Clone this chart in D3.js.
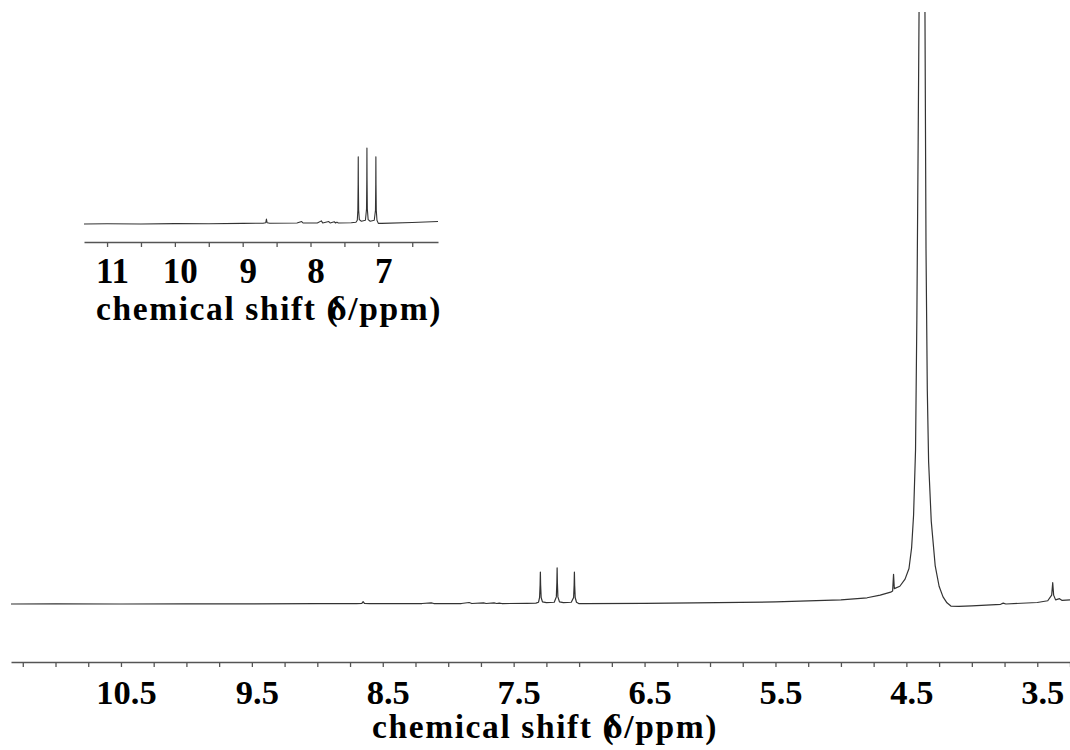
<!DOCTYPE html>
<html>
<head>
<meta charset="utf-8">
<script src="https://cdn.jsdelivr.net/npm/d3@7"></script>
<style>
  html, body { margin: 0; padding: 0; background: #fff; }
  svg { display: block; }
  .tick text, .axis-title { font-family: "Liberation Serif", "Times New Roman", serif; font-weight: bold; fill: #000; }
</style>
</head>
<body>
<svg id="chart" width="1070" height="750"></svg>
<script>
// 1H NMR spectrum (ppm, relative intensity)
const spectrumPpm = [
  11.34, 11.00, 10.50, 10.00, 9.50, 9.00, 8.70, 8.66, 8.65, 8.64, 8.60,
  8.20, 8.13, 8.11, 7.90, 7.84, 7.82, 7.73, 7.71, 7.65, 7.63, 7.61, 7.59,
  7.40, 7.33, 7.31, 7.302, 7.298, 7.296, 7.294, 7.290, 7.28, 7.25,
  7.19, 7.174, 7.170, 7.168, 7.166, 7.162, 7.15, 7.12,
  7.06, 7.042, 7.038, 7.036, 7.034, 7.030, 7.02, 7.00, 6.95,
  6.50, 6.12, 5.50, 5.00, 4.80, 4.70, 4.62, 4.605, 4.598, 4.592,
  4.55, 4.51, 4.48, 4.46, 4.445, 4.43, 4.42, 4.41, 4.40, 4.39, 4.38,
  4.37, 4.36, 4.35, 4.34, 4.33, 4.31, 4.28, 4.25, 4.22, 4.19, 4.16,
  4.10, 4.00, 3.78, 3.76, 3.74, 3.50, 3.42, 3.39, 3.382, 3.375, 3.36,
  3.33, 3.31, 3.25
];
const spectrumIntensity = [
  0.00, 0.02, 0.00, 0.03, 0.02, 0.05, 0.06, 0.10, 0.40, 0.10, 0.06,
  0.08, 0.20, 0.08, 0.08, 0.25, 0.08, 0.20, 0.08, 0.18, 0.08, 0.15, 0.08,
  0.10, 0.14, 0.30, 1.1, 3.2, 5.4, 3.2, 1.1, 0.35, 0.22,
  0.30, 1.2, 3.6, 6.1, 3.6, 1.2, 0.35, 0.22,
  0.30, 1.1, 3.2, 5.4, 3.2, 1.1, 0.30, 0.05, 0.05,
  0.12, 0.20, 0.35, 0.70, 1.05, 1.5, 2.0, 2.2, 5.0, 2.6,
  3.0, 4.2, 6.0, 9.5, 15, 26, 48, 78, 110, 170, 230,
  170, 110, 60, 36, 24, 14, 6.5, 3.0, 1.2, 0.2, -0.35,
  -0.4, -0.3, -0.05, 0.15, 0.0, 0.25, 0.55, 1.5, 3.6, 1.5, 0.7,
  0.9, 0.6, 0.7
];

const mainDomain = [11.34, 3.25];
const mainTickLabels = [10.5, 9.5, 8.5, 7.5, 6.5, 5.5, 4.5, 3.5];
const insetDomain = [11.34, 6.12];
const insetTickLabels = [11, 10, 9, 8, 7];
const axisTitle = "chemical shift (";
const axisTitleTail = "/ppm)";

const spectrum = spectrumPpm.map((p, i) => ({ ppm: p, v: spectrumIntensity[i] }));

const svg = d3.select('#chart');
const defs = svg.append('defs');

// ---- main spectrum ----
const x = d3.scaleLinear().domain(mainDomain).range([11, 1070]);
const y = d3.scaleLinear().domain([0, 100]).range([604, 12]);

defs.append('clipPath').attr('id', 'mainClip')
  .append('rect').attr('x', 11).attr('y', 12).attr('width', 1059).attr('height', 640);

svg.append('path')
  .datum(spectrum)
  .attr('clip-path', 'url(#mainClip)')
  .attr('fill', 'none')
  .attr('stroke', '#333')
  .attr('stroke-width', 1.2)
  .attr('stroke-linejoin', 'round')
  .attr('d', d3.line().x(d => x(d.ppm)).y(d => y(d.v)));

const mainMinor = d3.range(11.25, 3.2, -0.25);
const mainAxis = svg.append('g')
  .attr('transform', 'translate(0,662)')
  .call(d3.axisBottom(x)
    .tickValues(mainMinor)
    .tickSize(5)
    .tickSizeOuter(0)
    .tickPadding(13)
    .tickFormat(d => mainTickLabels.some(t => Math.abs(t - d) < 1e-6) ? d3.format('.1f')(d) : ''));
styleAxis(mainAxis, 34.5);

addTitle(545, 738);

// ---- inset ----
const xi = d3.scaleLinear().domain(insetDomain).range([84, 438]);
const yi = d3.scaleLinear().domain([0, 6.1]).range([224, 148]);

defs.append('clipPath').attr('id', 'insetClip')
  .append('rect').attr('x', 84).attr('y', 100).attr('width', 354).attr('height', 140);

svg.append('path')
  .datum(spectrum.filter(d => d.ppm >= 6.0))
  .attr('clip-path', 'url(#insetClip)')
  .attr('fill', 'none')
  .attr('stroke', '#333')
  .attr('stroke-width', 1.1)
  .attr('stroke-linejoin', 'round')
  .attr('d', d3.line().x(d => xi(d.ppm)).y(d => yi(d.v)));

const insetMinor = d3.range(11, 6.2, -0.5);
const insetAxis = svg.append('g')
  .attr('transform', 'translate(0,242)')
  .call(d3.axisBottom(xi)
    .tickValues(insetMinor)
    .tickSize(5)
    .tickSizeOuter(0)
    .tickPadding(11)
    .tickFormat(d => insetTickLabels.includes(d) ? d3.format('d')(d) : ''));
styleAxis(insetAxis, 35);

addTitle(269, 320);

function styleAxis(g, size) {
  g.select('.domain').attr('stroke', '#555').attr('stroke-width', 1.5);
  g.selectAll('.tick line').attr('stroke', '#555').attr('stroke-width', 1.3);
  g.selectAll('.tick text')
    .attr('font-size', size)
    .attr('dx', 5)
    .style('font-family', '"Liberation Serif", "Times New Roman", serif')
    .style('font-weight', 'bold')
    .attr('fill', '#000');
}

function addTitle(cx, by) {
  const t = svg.append('text')
    .attr('class', 'axis-title')
    .attr('x', cx)
    .attr('y', by)
    .attr('text-anchor', 'middle')
    .attr('font-size', 33.5)
    .style('letter-spacing', '1.6px');
  t.append('tspan').text(axisTitle);
  t.append('tspan').attr('dx', -10).text('\u03b4');
  t.append('tspan').text(axisTitleTail);
}
</script>
</body>
</html>
